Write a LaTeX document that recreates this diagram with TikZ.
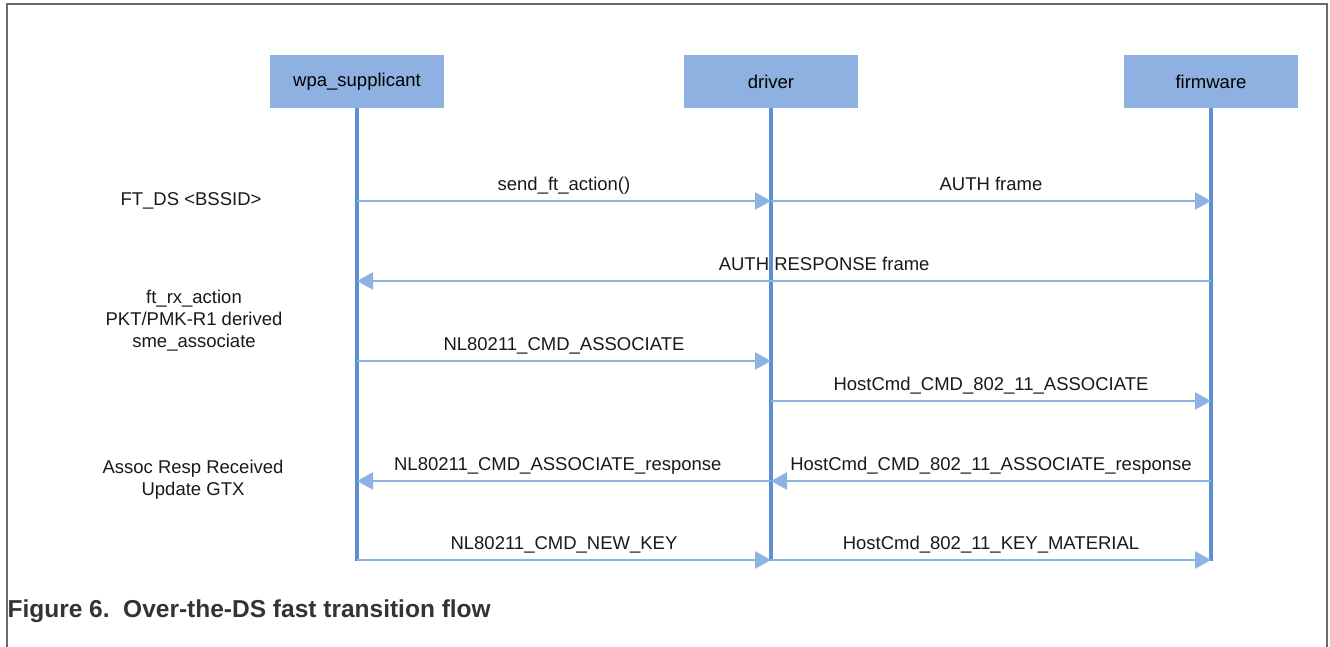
\documentclass[tikz,border=0pt]{standalone}
\usepackage{fontspec}
\setmainfont{Liberation Sans}
\usetikzlibrary{arrows.meta}
\definecolor{boxblue}{HTML}{8EB1E2}
\definecolor{lifeblue}{HTML}{5B8FD8}
\definecolor{msgblue}{HTML}{8DB3E3}
\definecolor{framegray}{HTML}{6A6A6A}
\definecolor{capgray}{HTML}{333333}
\tikzset{
  actor/.style={fill=boxblue, minimum width=174pt, minimum height=53pt,
    inner sep=0pt, font=\fontsize{18.5}{22}\selectfont},
  lifeline/.style={draw=lifeblue, line width=3.2pt},
  msg/.style={draw=msgblue, line width=2.6pt,
    -{Triangle[length=16pt,width=17pt]}},
  msglabel/.style={font=\fontsize{18.5}{22}\selectfont, text=black!90,
    text height=13.5pt, text depth=4pt, inner sep=0pt},
  note/.style={align=center, font=\fontsize{18.5}{22}\selectfont, text=black!90}
}
\begin{document}
\begin{tikzpicture}[x=1pt,y=1pt]
\useasboundingbox (0,0) rectangle (1330,647);
% draw the open frame
\draw[framegray, line width=1.6pt] (7,0) -- (7,643) -- (1327,643) -- (1327,0);

% draw actor boxes
\node[actor] (wpa) at (357,565.5) {wpa\_supplicant};
\node[actor] (drv) at (771,565.5) {driver};
\node[actor] (fw)  at (1211,565.5) {firmware};

% draw lifelines
\foreach \a in {wpa,drv,fw}
\draw[lifeline] (\a.south) -- (\a.south |- 0,86) coordinate (\a-end);

% message rows
\coordinate (r1) at (0,446);
\coordinate (r2) at (0,366);
\coordinate (r3) at (0,286);
\coordinate (r4) at (0,246);
\coordinate (r5) at (0,166);
\coordinate (r6) at (0,87);

% draw messages
\draw[msg] (wpa |- r1) -- node[msglabel, above=5pt] {send\_ft\_action()} (drv |- r1);
\draw[msg] (drv |- r1) -- node[msglabel, above=5pt] {AUTH frame} (fw |- r1);
\draw[msg] (fw |- r2) -- node[msglabel, above=5pt, pos=0.453] {AUTH RESPONSE frame} (wpa |- r2);
\draw[msg] (wpa |- r3) -- node[msglabel, above=5pt] {NL80211\_CMD\_ASSOCIATE} (drv |- r3);
\draw[msg] (drv |- r4) -- node[msglabel, above=5pt] {HostCmd\_CMD\_802\_11\_ASSOCIATE} (fw |- r4);
\draw[msg] (fw |- r5) -- node[msglabel, above=5pt] {HostCmd\_CMD\_802\_11\_ASSOCIATE\_response} (drv |- r5);
\draw[msg] (drv |- r5) -- node[msglabel, above=5pt, pos=0.515] {NL80211\_CMD\_ASSOCIATE\_response} (wpa |- r5);
\draw[msg] (wpa |- r6) -- node[msglabel, above=5pt] {NL80211\_CMD\_NEW\_KEY} (drv |- r6);
\draw[msg] (drv |- r6) -- node[msglabel, above=5pt] {HostCmd\_802\_11\_KEY\_MATERIAL} (fw |- r6);

% draw notes on the left
\node[note] (n1) at (191,446) {FT\_DS <BSSID>};
\node[note] (n2) at (194,326) {ft\_rx\_action\\PKT/PMK-R1 derived\\sme\_associate};
\node[note] (n3) at (193,167) {Assoc Resp Received\\Update GTX};

% draw caption
\node[anchor=west, font=\fontsize{24.5}{28}\selectfont\bfseries, text=capgray]
  (cap) at (4,36) {Figure 6.\ \ Over-the-DS fast transition flow};
\end{tikzpicture}
\end{document}
